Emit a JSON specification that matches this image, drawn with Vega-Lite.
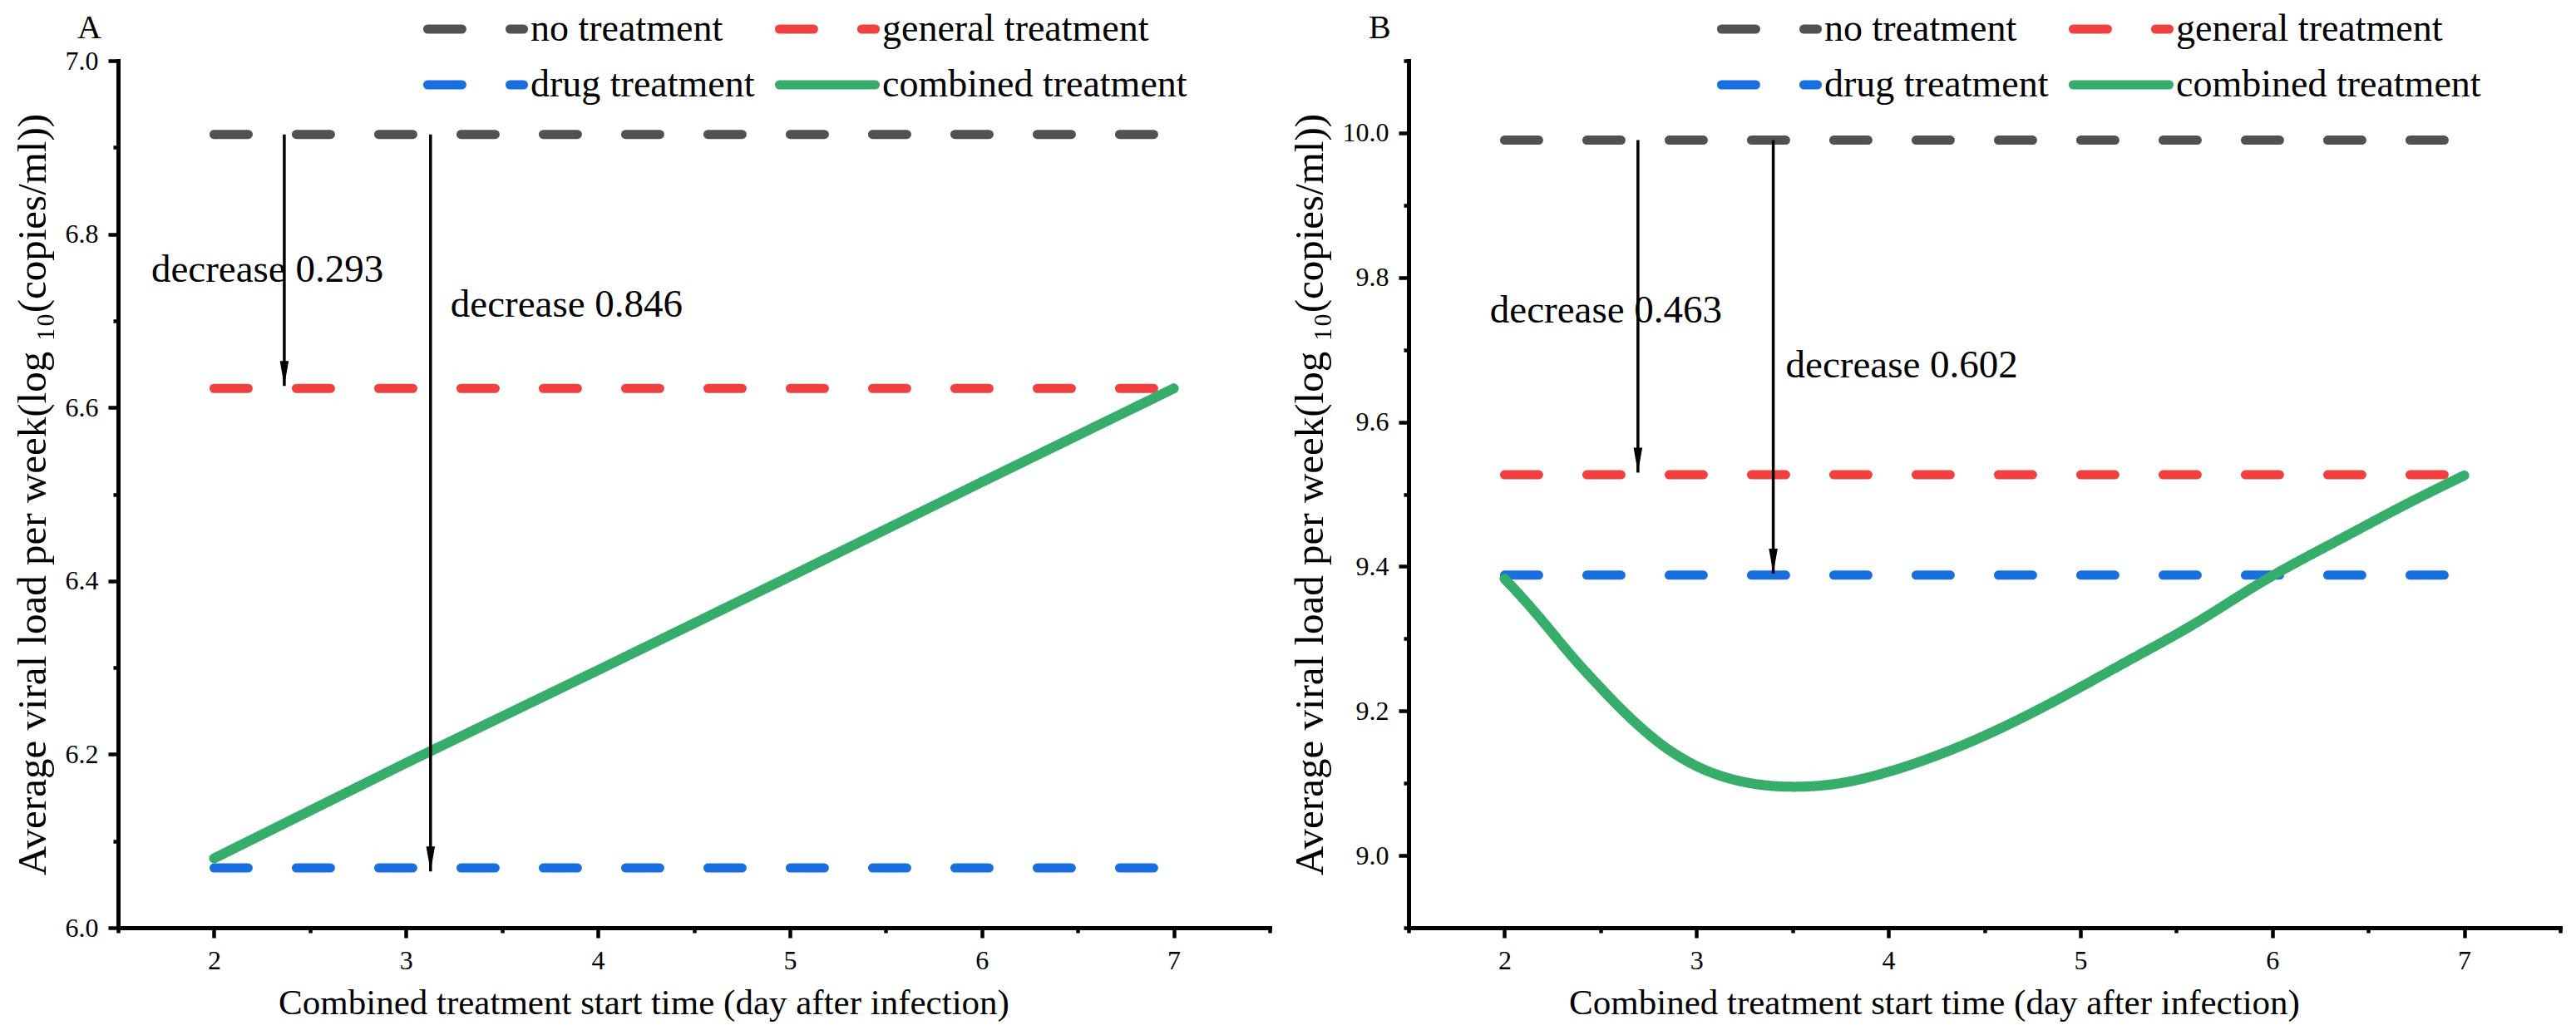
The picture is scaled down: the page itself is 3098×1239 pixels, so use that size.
{
  "$schema": "https://vega.github.io/schema/vega-lite/v6.json",
  "background": "white",
  "padding": {"left": 15, "top": 12, "right": 5, "bottom": 5},
  "spacing": 21,
  "datasets": {
    "lines": [
      {"panel": "A", "series": "no treatment", "x": 2, "y": 6.915},
      {"panel": "A", "series": "no treatment", "x": 7, "y": 6.915},
      {"panel": "A", "series": "general treatment", "x": 2, "y": 6.622},
      {"panel": "A", "series": "general treatment", "x": 7, "y": 6.622},
      {"panel": "A", "series": "drug treatment", "x": 2, "y": 6.069},
      {"panel": "A", "series": "drug treatment", "x": 7, "y": 6.069},
      {"panel": "A", "series": "combined treatment", "x": 2, "y": 6.08},
      {"panel": "A", "series": "combined treatment", "x": 3, "y": 6.19},
      {"panel": "A", "series": "combined treatment", "x": 4, "y": 6.297},
      {"panel": "A", "series": "combined treatment", "x": 5, "y": 6.405},
      {"panel": "A", "series": "combined treatment", "x": 6, "y": 6.514},
      {"panel": "A", "series": "combined treatment", "x": 7, "y": 6.622},
      {"panel": "B", "series": "no treatment", "x": 2, "y": 9.99},
      {"panel": "B", "series": "no treatment", "x": 7, "y": 9.99},
      {"panel": "B", "series": "general treatment", "x": 2, "y": 9.527},
      {"panel": "B", "series": "general treatment", "x": 7, "y": 9.527},
      {"panel": "B", "series": "drug treatment", "x": 2, "y": 9.388},
      {"panel": "B", "series": "drug treatment", "x": 7, "y": 9.388},
      {"panel": "B", "series": "combined treatment", "x": 2.0, "y": 9.383},
      {"panel": "B", "series": "combined treatment", "x": 2.097, "y": 9.356},
      {"panel": "B", "series": "combined treatment", "x": 2.232, "y": 9.314},
      {"panel": "B", "series": "combined treatment", "x": 2.347, "y": 9.276},
      {"panel": "B", "series": "combined treatment", "x": 2.483, "y": 9.237},
      {"panel": "B", "series": "combined treatment", "x": 2.618, "y": 9.199},
      {"panel": "B", "series": "combined treatment", "x": 2.792, "y": 9.157},
      {"panel": "B", "series": "combined treatment", "x": 2.946, "y": 9.13},
      {"panel": "B", "series": "combined treatment", "x": 3.1, "y": 9.111},
      {"panel": "B", "series": "combined treatment", "x": 3.293, "y": 9.098},
      {"panel": "B", "series": "combined treatment", "x": 3.486, "y": 9.094},
      {"panel": "B", "series": "combined treatment", "x": 3.718, "y": 9.097},
      {"panel": "B", "series": "combined treatment", "x": 3.95, "y": 9.111},
      {"panel": "B", "series": "combined treatment", "x": 4.22, "y": 9.134},
      {"panel": "B", "series": "combined treatment", "x": 4.529, "y": 9.168},
      {"panel": "B", "series": "combined treatment", "x": 4.876, "y": 9.214},
      {"panel": "B", "series": "combined treatment", "x": 5.263, "y": 9.272},
      {"panel": "B", "series": "combined treatment", "x": 5.61, "y": 9.321},
      {"panel": "B", "series": "combined treatment", "x": 5.958, "y": 9.383},
      {"panel": "B", "series": "combined treatment", "x": 6.344, "y": 9.436},
      {"panel": "B", "series": "combined treatment", "x": 6.691, "y": 9.486},
      {"panel": "B", "series": "combined treatment", "x": 7.0, "y": 9.526}
    ],
    "arrows": [
      {"panel": "A", "x": 2.366, "y": 6.915, "y2": 6.625},
      {"panel": "A", "x": 3.128, "y": 6.915, "y2": 6.065},
      {"panel": "B", "x": 2.695, "y": 9.99, "y2": 9.53},
      {"panel": "B", "x": 3.4, "y": 9.99, "y2": 9.39}
    ],
    "notes": [
      {"panel": "A", "x": 1.673, "y": 6.745, "text": "decrease 0.293"},
      {"panel": "A", "x": 3.232, "y": 6.705, "text": "decrease 0.846"},
      {"panel": "B", "x": 1.924, "y": 9.738, "text": "decrease 0.463"},
      {"panel": "B", "x": 3.465, "y": 9.662, "text": "decrease 0.602"}
    ]
  },
  "hconcat": [
    {
      "width": 1385,
      "height": 1043,
      "title": {"text": "A", "anchor": "start", "frame": "group", "dx": -49, "offset": -42},
      "layer": [
        {
          "data": {"name": "lines"},
          "transform": [{"filter": "datum.panel === 'A' && datum.series !== 'combined treatment'"}],
          "mark": {"type": "line", "strokeWidth": 11, "strokeCap": "round"},
          "encoding": {
            "x": {"field": "x", "type": "quantitative", "scale": {"domain": [1.5, 7.5], "nice": false, "zero": false},
              "axis": {"title": "Combined treatment start time (day after infection)", "titleX": 632, "values": [1.5, 2, 2.5, 3, 3.5, 4, 4.5, 5, 5.5, 6, 6.5, 7, 7.5],
                "labelExpr": "datum.value % 1 === 0 ? format(datum.value, 'd') : ''",
                "tickSize": {"condition": {"test": "datum.value % 1 === 0", "value": 12}, "value": 6}}},
            "y": {"field": "y", "type": "quantitative", "scale": {"domain": [6.0, 7.0], "nice": false, "zero": false},
              "axis": {"title": "Average viral load per week(log ₁₀(copies/ml))", "titleFontSize": 49, "values": [6.0, 6.1, 6.2, 6.3, 6.4, 6.5, 6.6, 6.7, 6.8, 6.9, 7.0],
                "labelExpr": "abs(round(datum.value * 10)) % 2 === 0 ? format(datum.value, '.1f') : ''",
                "tickSize": {"condition": {"test": "abs(round(datum.value * 10)) % 2 === 0", "value": 12}, "value": 6}}},
            "color": {"field": "series", "type": "nominal",
              "scale": {"domain": ["no treatment", "drug treatment", "general treatment", "combined treatment"], "range": ["#515151", "#1A6FDF", "#F14040", "#37AD6B"]},
              "legend": {"title": null, "orient": "none", "legendX": 407, "legendY": -61, "columns": 2, "gridAlign": "each", "symbolType": "M-4,0L4,0", "symbolSize": 829, "symbolStrokeWidth": 11, "labelFontSize": 46, "labelFont": "Liberation Serif", "labelColor": "black", "rowPadding": 21, "columnPadding": 7, "labelOffset": 43, "padding": 0, "labelLimit": 600,
                "encode": {"symbols": {"update": {"strokeCap": {"value": "round"}}}}}},
            "strokeDash": {"field": "series", "type": "nominal",
              "scale": {"domain": ["no treatment", "drug treatment", "general treatment", "combined treatment"], "range": [[41, 58], [41, 58], [41, 58], [1, 0]]},
              "legend": {"title": null, "orient": "none", "legendX": 407, "legendY": -61, "columns": 2, "gridAlign": "each", "symbolType": "M-4,0L4,0", "symbolSize": 829, "symbolStrokeWidth": 11, "labelFontSize": 46, "labelFont": "Liberation Serif", "labelColor": "black", "rowPadding": 21, "columnPadding": 7, "labelOffset": 43, "padding": 0, "labelLimit": 600,
                "encode": {"symbols": {"update": {"strokeCap": {"value": "round"}}}}}}
          }
        },
        {
          "data": {"name": "lines"},
          "transform": [{"filter": "datum.panel === 'A' && datum.series === 'combined treatment'"}],
          "mark": {"type": "line", "strokeWidth": 12, "strokeCap": "round"},
          "encoding": {
            "x": {"field": "x", "type": "quantitative", "scale": {"domain": [1.5, 7.5], "nice": false, "zero": false}},
            "y": {"field": "y", "type": "quantitative", "scale": {"domain": [6.0, 7.0], "nice": false, "zero": false}},
            "color": {"field": "series", "type": "nominal"},
            "strokeDash": {"field": "series", "type": "nominal"}
          }
        },
        {
          "data": {"name": "arrows"},
          "transform": [{"filter": "datum.panel === 'A'"}],
          "mark": {"type": "rule", "strokeWidth": 3.5, "color": "black"},
          "encoding": {
            "x": {"field": "x", "type": "quantitative", "scale": {"domain": [1.5, 7.5], "nice": false, "zero": false}},
            "y": {"field": "y", "type": "quantitative", "scale": {"domain": [6.0, 7.0], "nice": false, "zero": false}},
            "y2": {"field": "y2"}
          }
        },
        {
          "data": {"name": "arrows"},
          "transform": [{"filter": "datum.panel === 'A'"}],
          "mark": {"type": "point", "shape": "M-0.35,-2L0.35,-2L0,0Z", "filled": true, "color": "black", "size": 900, "opacity": 1, "strokeWidth": 0},
          "encoding": {
            "x": {"field": "x", "type": "quantitative", "scale": {"domain": [1.5, 7.5], "nice": false, "zero": false}},
            "y": {"field": "y2", "type": "quantitative", "scale": {"domain": [6.0, 7.0], "nice": false, "zero": false}}
          }
        },
        {
          "data": {"name": "notes"},
          "transform": [{"filter": "datum.panel === 'A'"}],
          "mark": {"type": "text", "align": "left", "baseline": "alphabetic", "fontSize": 47, "font": "Liberation Serif", "color": "black"},
          "encoding": {
            "x": {"field": "x", "type": "quantitative", "scale": {"domain": [1.5, 7.5], "nice": false, "zero": false}},
            "y": {"field": "y", "type": "quantitative", "scale": {"domain": [6.0, 7.0], "nice": false, "zero": false}},
            "text": {"field": "text"}
          }
        }
      ]
    },
    {
      "width": 1385,
      "height": 1043,
      "title": {"text": "B", "anchor": "start", "frame": "group", "dx": -48, "offset": -42},
      "layer": [
        {
          "data": {"name": "lines"},
          "transform": [{"filter": "datum.panel === 'B' && datum.series !== 'combined treatment'"}],
          "mark": {"type": "line", "strokeWidth": 11, "strokeCap": "round"},
          "encoding": {
            "x": {"field": "x", "type": "quantitative", "scale": {"domain": [1.5, 7.5], "nice": false, "zero": false},
              "axis": {"title": "Combined treatment start time (day after infection)", "titleX": 632, "values": [1.5, 2, 2.5, 3, 3.5, 4, 4.5, 5, 5.5, 6, 6.5, 7, 7.5],
                "labelExpr": "datum.value % 1 === 0 ? format(datum.value, 'd') : ''",
                "tickSize": {"condition": {"test": "datum.value % 1 === 0", "value": 12}, "value": 6}}},
            "y": {"field": "y", "type": "quantitative", "scale": {"domain": [8.9, 10.1], "nice": false, "zero": false},
              "axis": {"title": "Average viral load per week(log ₁₀(copies/ml))", "titleFontSize": 49, "values": [8.9, 9.0, 9.1, 9.2, 9.3, 9.4, 9.5, 9.6, 9.7, 9.8, 9.9, 10.0, 10.1],
                "labelExpr": "abs(round(datum.value * 10)) % 2 === 0 ? format(datum.value, '.1f') : ''",
                "tickSize": {"condition": {"test": "abs(round(datum.value * 10)) % 2 === 0", "value": 12}, "value": 6}}},
            "color": {"field": "series", "type": "nominal",
              "scale": {"domain": ["no treatment", "drug treatment", "general treatment", "combined treatment"], "range": ["#515151", "#1A6FDF", "#F14040", "#37AD6B"]},
              "legend": {"title": null, "orient": "none", "legendX": 411, "legendY": -61, "columns": 2, "gridAlign": "each", "symbolType": "M-4,0L4,0", "symbolSize": 829, "symbolStrokeWidth": 11, "labelFontSize": 46, "labelFont": "Liberation Serif", "labelColor": "black", "rowPadding": 21, "columnPadding": 7, "labelOffset": 43, "padding": 0, "labelLimit": 600,
                "encode": {"symbols": {"update": {"strokeCap": {"value": "round"}}}}}},
            "strokeDash": {"field": "series", "type": "nominal",
              "scale": {"domain": ["no treatment", "drug treatment", "general treatment", "combined treatment"], "range": [[41, 58], [41, 58], [41, 58], [1, 0]]},
              "legend": {"title": null, "orient": "none", "legendX": 411, "legendY": -61, "columns": 2, "gridAlign": "each", "symbolType": "M-4,0L4,0", "symbolSize": 829, "symbolStrokeWidth": 11, "labelFontSize": 46, "labelFont": "Liberation Serif", "labelColor": "black", "rowPadding": 21, "columnPadding": 7, "labelOffset": 43, "padding": 0, "labelLimit": 600,
                "encode": {"symbols": {"update": {"strokeCap": {"value": "round"}}}}}}
          }
        },
        {
          "data": {"name": "lines"},
          "transform": [{"filter": "datum.panel === 'B' && datum.series === 'combined treatment'"}],
          "mark": {"type": "line", "strokeWidth": 12, "strokeCap": "round", "interpolate": "basis"},
          "encoding": {
            "x": {"field": "x", "type": "quantitative", "scale": {"domain": [1.5, 7.5], "nice": false, "zero": false}},
            "y": {"field": "y", "type": "quantitative", "scale": {"domain": [8.9, 10.1], "nice": false, "zero": false}},
            "color": {"field": "series", "type": "nominal"},
            "strokeDash": {"field": "series", "type": "nominal"}
          }
        },
        {
          "data": {"name": "arrows"},
          "transform": [{"filter": "datum.panel === 'B'"}],
          "mark": {"type": "rule", "strokeWidth": 3.5, "color": "black"},
          "encoding": {
            "x": {"field": "x", "type": "quantitative", "scale": {"domain": [1.5, 7.5], "nice": false, "zero": false}},
            "y": {"field": "y", "type": "quantitative", "scale": {"domain": [8.9, 10.1], "nice": false, "zero": false}},
            "y2": {"field": "y2"}
          }
        },
        {
          "data": {"name": "arrows"},
          "transform": [{"filter": "datum.panel === 'B'"}],
          "mark": {"type": "point", "shape": "M-0.35,-2L0.35,-2L0,0Z", "filled": true, "color": "black", "size": 900, "opacity": 1, "strokeWidth": 0},
          "encoding": {
            "x": {"field": "x", "type": "quantitative", "scale": {"domain": [1.5, 7.5], "nice": false, "zero": false}},
            "y": {"field": "y2", "type": "quantitative", "scale": {"domain": [8.9, 10.1], "nice": false, "zero": false}}
          }
        },
        {
          "data": {"name": "notes"},
          "transform": [{"filter": "datum.panel === 'B'"}],
          "mark": {"type": "text", "align": "left", "baseline": "alphabetic", "fontSize": 47, "font": "Liberation Serif", "color": "black"},
          "encoding": {
            "x": {"field": "x", "type": "quantitative", "scale": {"domain": [1.5, 7.5], "nice": false, "zero": false}},
            "y": {"field": "y", "type": "quantitative", "scale": {"domain": [8.9, 10.1], "nice": false, "zero": false}},
            "text": {"field": "text"}
          }
        }
      ]
    }
  ],
  "resolve": {
    "scale": {"x": "independent", "y": "independent", "color": "independent", "strokeDash": "independent"},
    "legend": {"color": "independent", "strokeDash": "independent"}
  },
  "config": {
    "font": "Liberation Serif",
    "view": {"stroke": null},
    "title": {"font": "Liberation Serif", "fontSize": 40, "fontWeight": "normal", "color": "black"},
    "axis": {
      "grid": false,
      "domainColor": "black",
      "domainWidth": 5,
      "domainCap": "square",
      "tickColor": "black",
      "tickWidth": 4.5,
      "labelFont": "Liberation Serif",
      "labelFontSize": 32,
      "labelColor": "black",
      "labelPadding": 12,
      "labelOverlap": false,
      "labelFlush": false,
      "titleFont": "Liberation Serif",
      "titleFontSize": 43,
      "titleFontWeight": "normal",
      "titleColor": "black",
      "titlePadding": 14
    }
  }
}
